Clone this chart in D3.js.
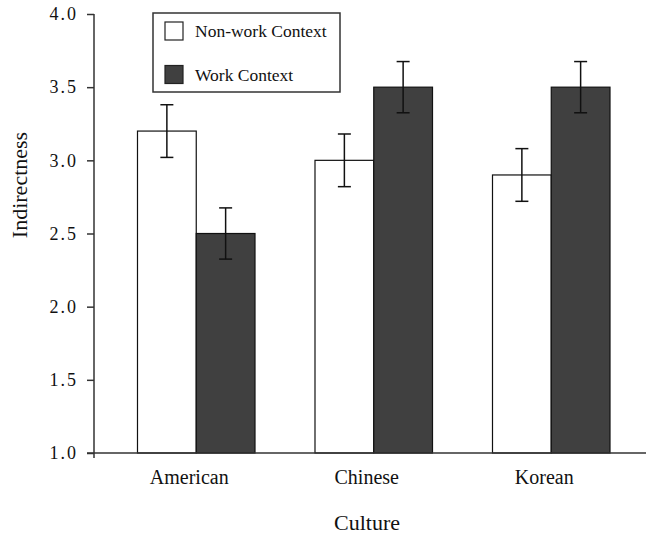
<!DOCTYPE html>
<meta charset="utf-8">
<style>
body, html {
  padding: 0;
  margin: 0;
  background: #fff;
}
svg text {
  font-family: "Liberation Serif", "Times New Roman", serif;
  fill: #111;
}
.tick text {
  font-size: 18px;
  letter-spacing: 2px;
}
.xaxis .tick text {
  font-size: 20px;
  letter-spacing: 0;
}
</style>
<body>
<script src="https://d3js.org/d3.v7.min.js"></script>
<script>

var cultures = ["American", "Chinese", "Korean"]
var contexts = ["Non-work Context", "Work Context"]
var nonWork = [3.2, 3.0, 2.9]
var work = [2.5, 3.5, 3.5]
var nonWorkErr = [0.18, 0.18, 0.18]
var workErr = [0.175, 0.175, 0.175]
var yTicks = [1.0, 1.5, 2.0, 2.5, 3.0, 3.5, 4.0]

var width = 646,
    height = 537,
    fills = ["#fff", "#404040"]

var svg = d3.select("body").append("svg")
    .attr("width", width)
    .attr("height", height)

var x = d3.scaleBand()
    .domain(cultures)
    .range([107.5, 640])
    .paddingInner(0.338)
    .paddingOuter(0.169)

var x1 = d3.scaleBand()
    .domain(contexts)
    .range([0, x.bandwidth()])

var y = d3.scaleLinear()
    .domain([1, 4])
    .range([453, 14])

var rows = cultures.map(function (c, i) {
  return [
    {culture: c, key: contexts[0], value: nonWork[i], err: nonWorkErr[i]},
    {culture: c, key: contexts[1], value: work[i], err: workErr[i]}
  ]
})

// bars
var groups = svg.append("g").selectAll("g")
    .data(rows)
    .enter().append("g")
    .attr("transform", function (d) { return "translate(" + x(d[0].culture) + ",0)" })

groups.selectAll("rect")
    .data(function (d) { return d })
    .enter().append("rect")
    .attr("x", function (d) { return x1(d.key) })
    .attr("y", function (d) { return y(d.value) })
    .attr("width", x1.bandwidth())
    .attr("height", function (d) { return y(1) - y(d.value) })
    .attr("fill", function (d, i) { return fills[i] })
    .attr("stroke", "#111")
    .attr("stroke-width", 1.2)

// error bars
var eb = groups.selectAll("g.err")
    .data(function (d) { return d })
    .enter().append("g")
    .attr("class", "err")
    .attr("stroke", "#111")
    .attr("stroke-width", 1.5)
    .attr("transform", function (d) { return "translate(" + (x1(d.key) + x1.bandwidth() / 2) + ",0)" })

eb.append("line")
    .attr("y1", function (d) { return y(d.value + d.err) })
    .attr("y2", function (d) { return y(d.value - d.err) })
eb.append("line")
    .attr("x1", -6.5).attr("x2", 6.5)
    .attr("y1", function (d) { return y(d.value + d.err) })
    .attr("y2", function (d) { return y(d.value + d.err) })
eb.append("line")
    .attr("x1", -6.5).attr("x2", 6.5)
    .attr("y1", function (d) { return y(d.value - d.err) })
    .attr("y2", function (d) { return y(d.value - d.err) })

// y axis
var yAxis = svg.append("g")
    .attr("transform", "translate(94,0)")
    .call(d3.axisLeft(y).tickValues(yTicks).tickFormat(d3.format(".1f")).tickSize(7).tickPadding(9))
yAxis.select(".domain").remove()
yAxis.selectAll("line").attr("stroke", "#333").attr("stroke-width", 1.5)
yAxis.append("line")
    .attr("y1", y(4)).attr("y2", y(1) + 5)
    .attr("stroke", "#333").attr("stroke-width", 1.5)

// x axis
var xAxis = svg.append("g")
    .attr("class", "xaxis")
    .attr("transform", "translate(0," + y(1) + ")")
    .call(d3.axisBottom(x).tickSize(0).tickPadding(17))
xAxis.select(".domain").remove()
xAxis.selectAll(".tick text").attr("dx", -7)
xAxis.append("line")
    .attr("x1", 87).attr("x2", width)
    .attr("stroke", "#333").attr("stroke-width", 1.5)

// titles
svg.append("text")
    .attr("transform", "translate(27,185) rotate(-90)")
    .attr("text-anchor", "middle")
    .style("font-size", "22px")
    .text("Indirectness")

svg.append("text")
    .attr("x", 367)
    .attr("y", 530)
    .attr("text-anchor", "middle")
    .style("font-size", "22px")
    .text("Culture")

// legend
var legend = svg.append("g")
legend.append("rect")
    .attr("x", 153).attr("y", 13)
    .attr("width", 187).attr("height", 79)
    .attr("fill", "none")
    .attr("stroke", "#333")
    .attr("stroke-width", 1.5)

var items = legend.selectAll("g.item")
    .data(contexts)
    .enter().append("g")
    .attr("class", "item")
    .attr("transform", function (d, i) { return "translate(165," + (22 + i * 43.5) + ")" })

items.append("rect")
    .attr("width", 18).attr("height", 18)
    .attr("fill", function (d, i) { return fills[i] })
    .attr("stroke", "#222")
    .attr("stroke-width", 1.2)

items.append("text")
    .attr("x", 30)
    .attr("y", 15)
    .style("font-size", "17.5px")
    .text(function (d) { return d })

</script>
</body>
